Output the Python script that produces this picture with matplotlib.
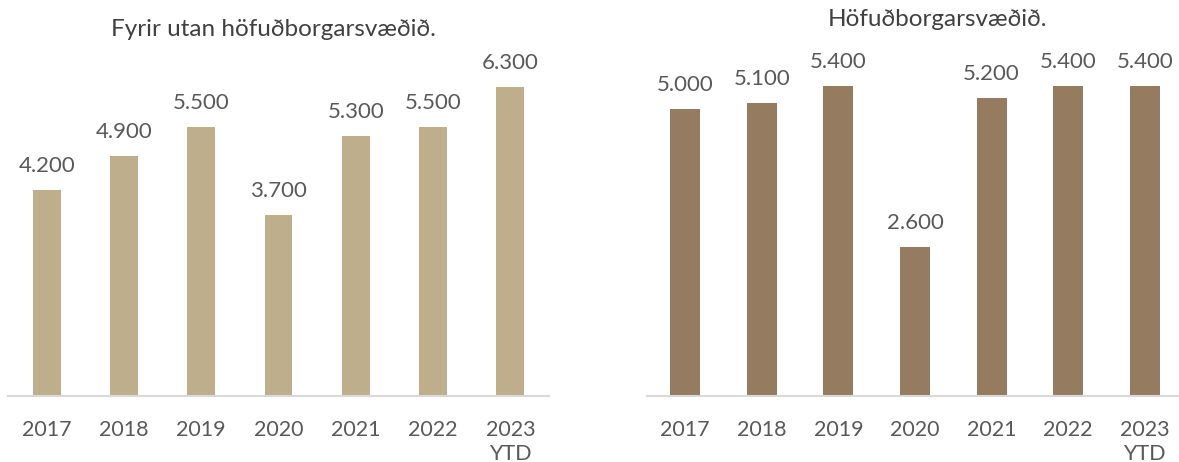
import matplotlib.pyplot as plt

plt.rcParams['font.family'] = ['Lato', 'DejaVu Sans']

years = ['2017', '2018', '2019', '2020', '2021', '2022', '2023\nYTD']
utan = [4200, 4900, 5500, 3700, 5300, 5500, 6300]
hofud = [5000, 5100, 5400, 2600, 5200, 5400, 5400]

txt = '#595959'
fig = plt.figure(figsize=(11.79, 4.62), dpi=100)

ax1 = fig.add_axes([8/1179, 66/462, 541/1179, 336/462])
ax2 = fig.add_axes([647/1179, 66/462, 536/1179, 336/462])


def panel(ax, vals, color, width, ymax):
    x = range(len(vals))
    bars = ax.bar(x, vals, width=width, color=color)
    for b, v in zip(bars, vals):
        ax.annotate(f'{v:,}'.replace(',', '.'), (b.get_x() + b.get_width()/2, v),
                    xytext=(0, 10), textcoords='offset points',
                    ha='center', va='bottom', fontsize=16, color=txt)
    ax.set_xlim(-0.5, len(vals) - 0.5)
    ax.set_ylim(0, ymax)
    ax.set_xticks(list(x))
    ax.set_xticklabels(years, fontsize=15.5, color=txt, linespacing=1.25)
    ax.tick_params(axis='x', length=0, pad=17)
    ax.set_yticks([])
    for s in ['top', 'right', 'left']:
        ax.spines[s].set_visible(False)
    ax.spines['bottom'].set_color('#d9d9d9')
    ax.spines['bottom'].set_linewidth(1.5)
    ax.patch.set_alpha(0)


panel(ax1, utan, '#BFAE8C', 0.36, 336/0.049)
panel(ax2, hofud, '#957B5F', 0.39, 336/0.0574)

fig.text(273/1179, 1 - 29/462, 'Fyrir utan höfuðborgarsvæðið.', ha='center', va='center',
         fontsize=17.5, color='#404040')
fig.text(938/1179, 1 - 19/462, 'Höfuðborgarsvæðið.', ha='center', va='center',
         fontsize=17.5, color='#404040')

fig.savefig('out.png', dpi=100)
